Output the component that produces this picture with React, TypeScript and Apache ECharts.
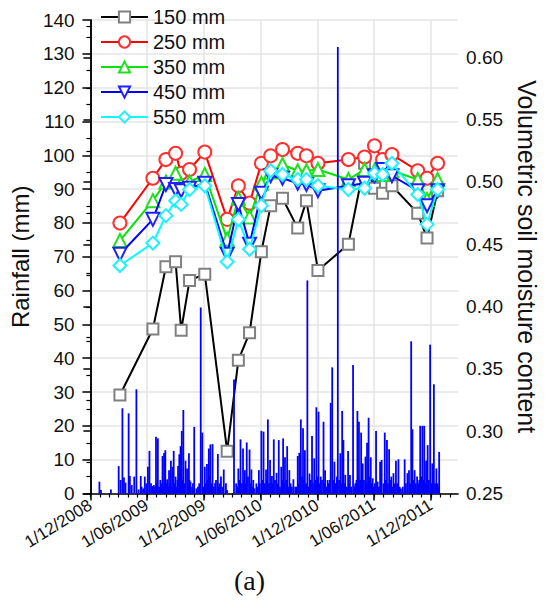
import React, { useEffect, useRef } from "react";
import * as echarts from "echarts";

// ---- Data ----
const seriesNames = ["150 mm", "250 mm", "350 mm", "450 mm", "550 mm"];

const sampleDates = [
  "2009-03-06", "2009-06-20", "2009-08-01", "2009-09-01", "2009-09-19", "2009-10-16",
  "2009-12-04", "2010-02-14", "2010-03-22", "2010-04-27", "2010-06-04", "2010-07-04",
  "2010-08-11", "2010-09-29", "2010-10-27", "2010-12-03", "2011-03-11", "2011-05-02",
  "2011-06-03", "2011-06-29", "2011-07-29", "2011-10-20", "2011-11-19", "2011-12-23",
];

const m150 = [0.329, 0.382, 0.432, 0.436, 0.381, 0.421, 0.426, 0.284, 0.357, 0.379, 0.444, 0.481, 0.487, 0.463, 0.485, 0.429, 0.45, 0.515, 0.495, 0.491, 0.497, 0.475, 0.455, 0.493];
const m250 = [0.467, 0.503, 0.518, 0.523, 0.507, 0.51, 0.524, 0.47, 0.497, 0.483, 0.515, 0.521, 0.526, 0.523, 0.521, 0.515, 0.518, 0.52, 0.529, 0.518, 0.522, 0.509, 0.503, 0.515];
const m350 = [0.453, 0.485, 0.5, 0.507, 0.498, 0.5, 0.506, 0.454, 0.487, 0.472, 0.499, 0.508, 0.514, 0.509, 0.509, 0.51, 0.502, 0.51, 0.509, 0.506, 0.509, 0.502, 0.486, 0.502];
const m450 = [0.442, 0.47, 0.498, 0.494, 0.493, 0.495, 0.499, 0.442, 0.482, 0.45, 0.491, 0.505, 0.503, 0.499, 0.498, 0.493, 0.497, 0.499, 0.505, 0.51, 0.505, 0.493, 0.481, 0.493];
const m550 = [0.433, 0.451, 0.473, 0.485, 0.482, 0.494, 0.497, 0.436, 0.47, 0.446, 0.481, 0.509, 0.506, 0.502, 0.502, 0.497, 0.494, 0.495, 0.507, 0.506, 0.515, 0.49, 0.466, 0.494];

// daily rainfall: day offset from 1 Dec 2008, and mm
const rainDays = [
  29, 34, 66, 91, 97, 103, 108, 113, 123, 127, 133, 141, 148, 155, 162, 175, 180, 185, 190, 199,
  204, 211, 217, 225, 232, 237, 241, 247, 253, 259, 264, 268, 274, 282, 286, 290, 294, 299, 306, 311,
  317, 322, 334, 341, 355, 360, 368, 375, 381, 386, 393, 401, 410, 420, 429, 436, 462, 469, 476, 483,
  491, 497, 503, 512, 518, 524, 534, 542, 550, 557, 565, 571, 578, 584, 590, 599, 606, 614, 620, 626,
  633, 640, 653, 659, 667, 672, 677, 684, 690, 698, 705, 713, 720, 727, 734, 741, 750, 755, 763, 773,
  778, 785, 796, 804, 810, 814, 820, 829, 835, 845, 852, 859, 864, 871, 876, 885, 890, 895, 902, 908,
  919, 924, 932, 937, 947, 954, 961, 968, 975, 983, 991, 999, 1011, 1020, 1025, 1032, 1036, 1043, 1051, 1061,
  1068, 1074, 1080, 1085, 1093, 1100, 1105, 1113, 1122,
  165, 170, 195, 208, 214, 221, 229, 235, 244, 250, 256, 262, 271, 278, 280, 288, 292, 297, 302, 314,
  319, 327, 330, 346, 350, 364, 371, 378, 384, 390, 397, 404, 413, 416, 425, 440, 472, 480, 487, 494,
  500, 507, 515, 521, 528, 538, 545, 553, 561, 568, 575, 581, 587, 594, 602, 610, 617, 623, 630, 636,
  644, 648, 663, 670, 675, 681, 687, 694, 701, 709, 716, 724, 731, 738, 745, 752, 759, 767, 770, 782,
  789, 793, 800, 807, 817, 825, 832, 839, 849, 856, 862, 868, 874, 880, 888, 898, 905, 912, 915, 928,
  943, 950, 957, 964, 971, 979, 987, 995, 1005, 1015, 1029, 1039, 1047, 1055, 1058, 1064, 1071, 1077, 1083, 1089,
  1096, 1103, 1109, 1117, 1120,
];
const rainMm = [
  3.5, 1, 1.2, 8.1, 4, 25.2, 4.7, 3.2, 23.7, 5.2, 2.5, 5, 30.8, 1.2, 5.2, 5, 3, 7.9, 12.6, 2.2,
  2.5, 16.8, 16.3, 4, 11.1, 12, 12.8, 4.2, 6.9, 9.7, 7.9, 12.6, 5, 8.1, 11.6, 14, 18.5, 24.7, 9.7, 7.4,
  11.9, 3.5, 19.7, 1.5, 55, 18, 7.9, 8.7, 13.3, 14.5, 14.6, 3, 11.7, 5, 7.1, 3, 33.7, 3, 7.4, 16,
  13.3, 6.9, 15.1, 13, 7.1, 4, 3, 6.9, 18.5, 18.3, 7.1, 21.9, 9.9, 5.2, 16, 6.1, 15.8, 7.9, 16.3, 10.7,
  14, 6.9, 4.2, 2, 11.1, 12, 21.9, 19.3, 12.8, 63, 5.9, 17, 10.4, 25.5, 24.2, 5, 21.2, 6.9, 4, 26.8,
  37.3, 9.4, 132, 11.9, 24.4, 15.8, 5.5, 12.6, 5.5, 38, 3, 24.4, 21.2, 18, 8.9, 10.9, 15, 22.4, 10.7, 4.5,
  18.5, 3.5, 9.4, 9.9, 18, 15.8, 13.1, 5, 6, 9.7, 10.1, 1.5, 10.1, 6, 6.9, 45, 19, 6.9, 5, 20,
  20, 20, 9.7, 14.3, 44, 8.9, 32.3, 7.4, 12.3,
  2, 1.5, 3, 2, 3, 2, 3, 2, 3, 2, 3, 2, 3, 2, 4, 3, 5, 4, 3, 2,
  4, 2, 3, 2, 3, 2, 3, 4, 5, 3, 2, 4, 2, 3, 2, 1, 2, 4, 3, 4,
  3, 5, 3, 2, 1.5, 2, 3, 4, 3, 4, 3, 2, 3, 4, 3, 2, 4, 3, 4, 2,
  3, 2, 2, 3, 4, 5, 4, 3, 2, 4, 3, 4, 5, 3, 4, 3, 2, 3, 4, 4,
  3, 5, 4, 3, 3, 2, 3, 2, 2, 4, 5, 4, 3, 4, 3, 5, 3, 2, 3, 2,
  3, 4, 3, 4, 2, 3, 3, 2, 2, 3, 3, 4, 3, 3, 4, 5, 4, 3, 5, 4,
  3, 4, 3, 3, 2,
];

const majorTickDates = ["2008-12-01", "2009-06-01", "2009-12-01", "2010-06-01", "2010-12-01", "2011-06-01", "2011-12-01"];
const xTickLabels = ["1/12/2008", "1/06/2009", "1/12/2009", "1/06/2010", "1/12/2010", "1/06/2011", "1/12/2011"];
const rightTicks = [0.25, 0.3, 0.35, 0.4, 0.45, 0.5, 0.55, 0.6];

const ORIGIN = Date.UTC(2008, 11, 1);
const dayOf = (s: string) => {
  const [y, m, d] = s.split("-").map(Number);
  return (Date.UTC(y, m - 1, d) - ORIGIN) / 86400000;
};

const FONT = '"Liberation Sans", Arial, sans-serif';

export default function App() {
  const ref = useRef<HTMLDivElement>(null);
  useEffect(() => {
    document.body.style.margin = "0";
    if (!ref.current) return;
    const chart = echarts.init(ref.current, undefined, { renderer: "svg" });

    const majorDays = majorTickDates.map(dayOf);
    const monthDays: number[] = [];
    for (let k = 0; k < 40; k++) monthDays.push((Date.UTC(2008, 11 + k, 1) - ORIGIN) / 86400000);
    const xMin = -9;
    const xMax = 1183;

    const colors = ["#000000", "#ff0000", "#00e600", "#0000ff", "#00ffff"];
    const symColors = ["#808080", "#ff3030", "#20e020", "#2020ff", "#20f0ff"];
    const symbols = ["emptyRect", "emptyCircle", "emptyTriangle", "emptyTriangle", "emptyDiamond"];
    const sizes = [11, 13, 13, 13, 13];
    const rotates = [0, 0, 0, 180, 0];
    const values = [m150, m250, m350, m450, m550];
    const sampleDays = sampleDates.map(dayOf);

    const lineSeries = values.map((arr, i) => ({
      name: seriesNames[i],
      type: "line",
      xAxisIndex: 0,
      yAxisIndex: 1,
      data: sampleDays.map((d, j) => [d, arr[j]]),
      symbol: symbols[i],
      symbolSize: sizes[i],
      symbolRotate: rotates[i],
      lineStyle: { color: colors[i], width: 2 },
      itemStyle: { color: symColors[i], borderWidth: 1.2 },
      z: 2 + i * 0.1,
    }));

    chart.setOption({
      animation: false,
      grid: { left: 80, right: 85, top: 20, bottom: 116.5 },
      legend: {
        data: seriesNames,
        orient: "vertical",
        left: 95,
        top: 2,
        itemWidth: 47,
        itemHeight: 14,
        itemGap: 5,
        textStyle: { fontSize: 20, fontFamily: FONT, color: "#111" },
      },
      xAxis: [
        {
          type: "value",
          min: xMin,
          max: xMax,
          position: "bottom",
          axisLine: { onZero: false, lineStyle: { color: "#000", width: 1.5 } },
          axisTick: { customValues: majorDays, length: 7, lineStyle: { color: "#000", width: 1.5 } },
          axisLabel: {
            customValues: majorDays,
            rotate: 32,
            margin: 10,
            fontSize: 17,
            fontFamily: FONT,
            color: "#111",
            formatter: (v: number) => {
              const i = majorDays.findIndex((d) => Math.abs(d - v) < 0.5);
              return i >= 0 ? xTickLabels[i] : "";
            },
          },
          splitLine: { show: true, lineStyle: { color: "#e4e4e4", width: 1.5 } },
        },
        {
          type: "value",
          min: xMin,
          max: xMax,
          position: "bottom",
          offset: 0,
          axisLine: { show: false, onZero: false },
          axisTick: { customValues: monthDays, length: 4, lineStyle: { color: "#000", width: 1.2 } },
          axisLabel: { show: false },
          splitLine: { show: false },
        },
      ],
      yAxis: [
        {
          type: "value",
          min: 0,
          max: 140,
          interval: 10,
          position: "left",
          name: "Rainfall (mm)",
          nameLocation: "middle",
          nameGap: 46,
          nameRotate: 90,
          nameTextStyle: { fontSize: 24, fontFamily: FONT, color: "#111" },
          axisLine: { show: true, lineStyle: { color: "#000", width: 1.5 } },
          axisTick: { show: true, length: 8, lineStyle: { color: "#000", width: 1.5 } },
          minorTick: { show: true, splitNumber: 2, length: 4, lineStyle: { color: "#000", width: 1.2 } },
          axisLabel: { fontSize: 19, fontFamily: FONT, color: "#111", margin: 13 },
          splitLine: { show: true, lineStyle: { color: "#e4e4e4", width: 1.5 } },
        },
        {
          type: "value",
          min: 0.25,
          max: 0.63,
          interval: 0.05,
          position: "right",
          name: "Volumetric soil moisture content",
          nameLocation: "middle",
          nameGap: 55,
          nameRotate: -90,
          nameTextStyle: { fontSize: 25, fontFamily: FONT, color: "#111" },
          axisLine: { show: true, lineStyle: { color: "#000", width: 1.5 } },
          axisTick: {
            show: true,
            inside: true,
            length: 7,
            customValues: rightTicks,
            lineStyle: { color: "#000", width: 1.5 },
          },
          minorTick: { show: true, splitNumber: 2, length: 4, lineStyle: { color: "#000", width: 1.2 } },
          axisLabel: {
            customValues: rightTicks,
            fontSize: 19,
            fontFamily: FONT,
            color: "#111",
            margin: 8,
            formatter: (v: number) => v.toFixed(2),
          },
          splitLine: { show: false },
        },
      ],
      graphic: [
        {
          type: "text",
          left: 234,
          top: 566,
          style: { text: "(a)", font: '28px "Liberation Serif", "Times New Roman", serif', fill: "#111" },
        },
      ],
      series: [
        ...lineSeries,
        {
          name: "Rainfall",
          type: "bar",
          xAxisIndex: 0,
          yAxisIndex: 0,
          barWidth: 1.8,
          itemStyle: { color: "#0000ff" },
          data: rainDays.map((d, i) => [d, rainMm[i]]),
          z: 3,
        },
      ],
    });
    return () => chart.dispose();
  }, []);
  return <div ref={ref} style={{ width: 547, height: 610 }} />;
}
